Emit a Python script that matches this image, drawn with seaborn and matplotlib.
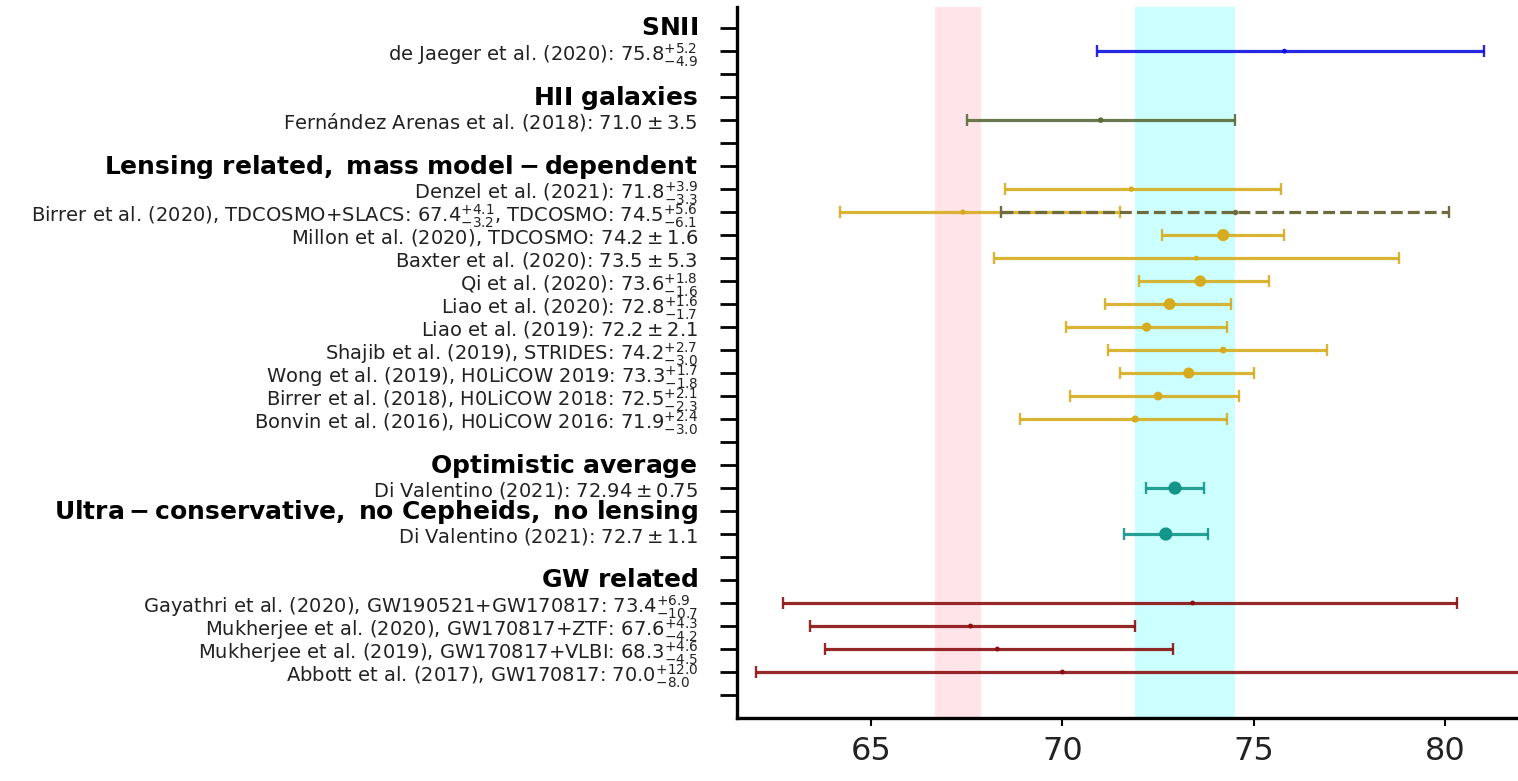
import numpy as np
import matplotlib
matplotlib.use("Agg")
import matplotlib.pyplot as plt
import matplotlib.transforms as mtransforms
import seaborn as sns

# ---------------- data ----------------
group_titles = ["SNII", "HII galaxies", "Lensing related, mass model-dependent",
                "Optimistic average", "Ultra-conservative, no Cepheids, no lensing",
                "GW related"]
group_colors = ["#1010e0", "#5a6b3a", "#d6ac1e", "#14958a", "#14958a", "#8a1010"]

refs = ["de Jaeger et al. (2020)",
        "Fernández Arenas et al. (2018)",
        "Denzel et al. (2021)",
        "Birrer et al. (2020), TDCOSMO+SLACS",
        "Millon et al. (2020), TDCOSMO",
        "Baxter et al. (2020)",
        "Qi et al. (2020)",
        "Liao et al. (2020)",
        "Liao et al. (2019)",
        "Shajib et al. (2019), STRIDES",
        "Wong et al. (2019), H0LiCOW 2019",
        "Birrer et al. (2018), H0LiCOW 2018",
        "Bonvin et al. (2016), H0LiCOW 2016",
        "Di Valentino (2021)",
        "Di Valentino (2021)",
        "Gayathri et al. (2020), GW190521+GW170817",
        "Mukherjee et al. (2020), GW170817+ZTF",
        "Mukherjee et al. (2019), GW170817+VLBI",
        "Abbott et al. (2017), GW170817"]
group_of = [0, 1, 2, 2, 2, 2, 2, 2, 2, 2, 2, 2, 2, 3, 4, 5, 5, 5, 5]
h0 = [75.8, 71.0, 71.8, 67.4, 74.2, 73.5, 73.6, 72.8, 72.2, 74.2, 73.3, 72.5, 71.9,
      72.94, 72.7, 73.4, 67.6, 68.3, 70.0]
err_plus = [5.2, 3.5, 3.9, 4.1, 1.6, 5.3, 1.8, 1.6, 2.1, 2.7, 1.7, 2.1, 2.4,
            0.75, 1.1, 6.9, 4.3, 4.6, 12.0]
err_minus = [4.9, 3.5, 3.3, 3.2, 1.6, 5.3, 1.6, 1.7, 2.1, 3.0, 1.8, 2.3, 3.0,
             0.75, 1.1, 10.7, 4.2, 4.5, 8.0]

# second (TDCOSMO-only) value of Birrer et al. (2020)
extra_ref_index = 3
extra_name = "TDCOSMO"
extra_h0 = 74.5
extra_plus = 5.6
extra_minus = 6.1

planck_h0, planck_err = 67.27, 0.60
shoes_h0, shoes_err = 73.2, 1.3

xticks = [65, 70, 75, 80]


def fmt(v, p, m):
    if p == m:
        return r"$%s\pm%s$" % (v, p)
    return r"$%s^{+%s}_{-%s}$" % (v, p, m)


# ---------------- layout of rows ----------------
gap_after = [1, 1, 1, 0, 1, 1]
labels, is_header = [], []
row_of_entry = {}
row = 0
for g, title in enumerate(group_titles):
    labels.append(r"$\bf{%s}$" % title.replace(" ", r"\ "))
    is_header.append(True)
    row += 1
    for i, gg in enumerate(group_of):
        if gg == g:
            txt = "%s: %s" % (refs[i], fmt(h0[i], err_plus[i], err_minus[i]))
            if i == extra_ref_index:
                txt += ", %s: %s" % (extra_name, fmt(extra_h0, extra_plus, extra_minus))
            labels.append(txt)
            is_header.append(False)
            row_of_entry[i] = row
            row += 1
    for _ in range(gap_after[g]):
        labels.append("")
        is_header.append(False)
        row += 1
nrows = row

# ---------------- figure ----------------
sns.set_theme(style="ticks")
plt.rcParams["font.family"] = ["DejaVu Sans"]
plt.rcParams["mathtext.fontset"] = "dejavusans"

W, H = 1518, 781
fig = plt.figure(figsize=(W / 100, H / 100), dpi=100)
ax = fig.add_axes([737 / W, 1 - 718 / H, 1 - 737 / W, (718 - 7) / H])

ax.axvspan(planck_h0 - planck_err, planck_h0 + planck_err, color="pink",
           alpha=0.4, lw=0, zorder=0)
ax.axvspan(shoes_h0 - shoes_err, shoes_h0 + shoes_err, color="cyan",
           alpha=0.2, lw=0, zorder=0)

ys = [row_of_entry[i] for i in range(len(h0))]
cols = [group_colors[g] for g in group_of]
for i in range(len(h0)):
    ax.errorbar(h0[i], ys[i], xerr=[[err_minus[i]], [err_plus[i]]], fmt="none",
                ecolor=cols[i], elinewidth=2.3, capsize=4.5, capthick=1.7,
                alpha=0.9, zorder=2)

# dashed TDCOSMO-only bar
eb = ax.errorbar(extra_h0, row_of_entry[extra_ref_index],
                 xerr=[[extra_minus], [extra_plus]], fmt="none",
                 ecolor="#6e6c3e", elinewidth=2.3, capsize=4.5, capthick=1.7,
                 zorder=3)
eb[2][0].set_linestyle("--")

sigma = [(p + m) / 2 for p, m in zip(err_plus, err_minus)]
sizes = [float(np.clip(14.0 / s, 3.5, 9.5)) ** 2 for s in sigma]
sns.scatterplot(x=h0, y=ys, hue=list(range(len(h0))),
                palette=cols, size=list(range(len(h0))),
                sizes=dict(zip(range(len(h0)), sizes)),
                legend=False, linewidth=0, ax=ax, zorder=4)
sns.scatterplot(x=[extra_h0], y=[row_of_entry[extra_ref_index]], color="#6e6c3e",
                s=16, linewidth=0, ax=ax, zorder=4, legend=False)

ax.set_xlim(61.5, 81.9)
ax.set_ylim(nrows + 0.0, -0.92)
ax.set_xticks(xticks)
ax.set_xticklabels([str(t) for t in xticks])
ax.set_yticks(range(nrows))
ax.set_yticklabels(labels)
ax.set_xlabel("")
ax.set_ylabel("")

sns.despine(ax=ax)
for s in ("left", "bottom"):
    ax.spines[s].set_linewidth(2.4)
    ax.spines[s].set_color("black")
ax.tick_params(axis="y", length=12, width=2.0, pad=16, labelsize=14,
               colors="black", labelcolor="#222222")
ax.tick_params(axis="x", length=6, width=1.5, pad=7, labelsize=23,
               colors="black", labelcolor="#222222")
ax.grid(False)

shift = mtransforms.ScaledTranslation(0, 3 / 100, fig.dpi_scale_trans)
for lab, hd in zip(ax.get_yticklabels(), is_header):
    if hd:
        lab.set_fontsize(18)
        lab.set_color("black")
        lab.set_transform(lab.get_transform() + shift)

fig.savefig("out.png", dpi=100, facecolor="white")
